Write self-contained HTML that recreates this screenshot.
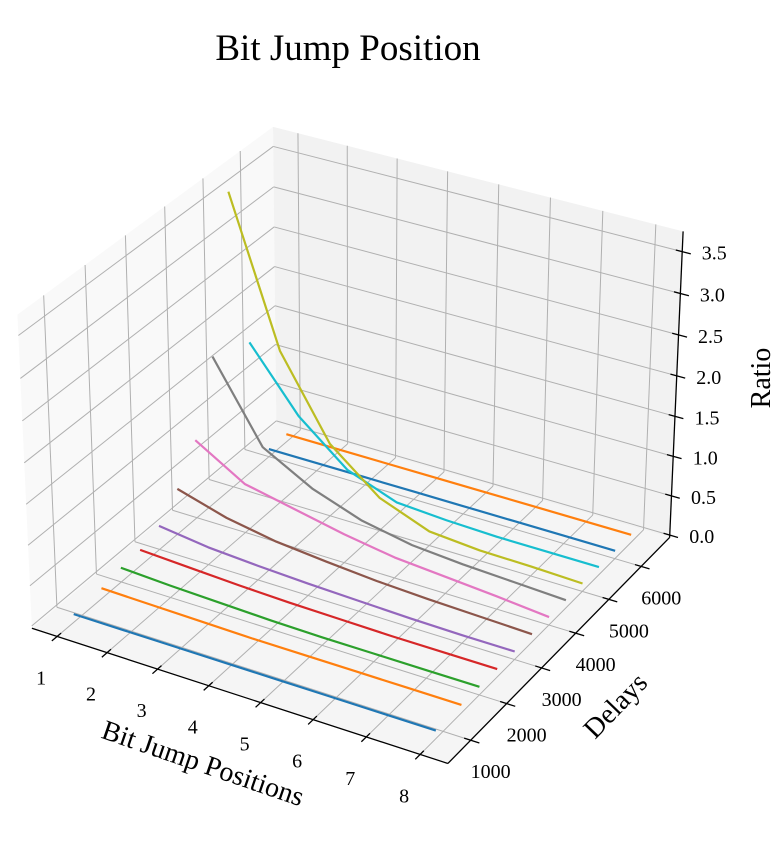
<!DOCTYPE html>
<html><head><meta charset="utf-8"><style>
html,body{margin:0;padding:0;background:#fff}
svg{display:block}
text{font-family:"Liberation Serif","Times New Roman",serif;fill:#000}
</style></head><body>
<svg id="chart" width="781" height="848" viewBox="0 0 781 848" xmlns="http://www.w3.org/2000/svg">
<text x="348" y="60" font-size="37" text-anchor="middle">Bit Jump Position</text>
<g id="panes"></g>
<g id="grid"></g>
<g id="axes"></g>
<g id="series"></g>
<g id="labels"></g>
<text x="200" y="772" font-size="28" text-anchor="middle" transform="rotate(19 200 772)">Bit Jump Positions</text>
<text x="622" y="712" font-size="28" text-anchor="middle" transform="rotate(-46 622 712)">Delays</text>
<text x="770" y="378" font-size="28" text-anchor="middle" transform="rotate(-90 770 378)">Ratio</text>
</svg>
<script>
const positions = [1, 2, 3, 4, 5, 6, 7, 8];
const delays = [800, 1500, 2000, 2500, 3000, 3500, 4000, 4500, 5000, 5500, 6000, 6500];
const ratio1000 = [0.07, 0.07, 0.07, 0.07, 0.07, 0.07, 0.07, 0.07];
const ratio1500 = [0.10, 0.09, 0.08, 0.07, 0.07, 0.07, 0.07, 0.07];
const ratio2000 = [0.15, 0.12, 0.10, 0.08, 0.07, 0.07, 0.07, 0.07];
const ratio2500 = [0.17, 0.14, 0.11, 0.09, 0.08, 0.07, 0.07, 0.07];
const ratio3000 = [0.27, 0.19, 0.15, 0.12, 0.10, 0.08, 0.07, 0.07];
const ratio3500 = [0.54, 0.36, 0.25, 0.19, 0.14, 0.11, 0.09, 0.07];
const ratio4000 = [0.96, 0.59, 0.46, 0.33, 0.23, 0.18, 0.13, 0.07];
const ratio4500 = [1.82, 0.86, 0.52, 0.30, 0.18, 0.13, 0.10, 0.07];
const ratio5000 = [3.66, 1.88, 0.89, 0.39, 0.15, 0.10, 0.09, 0.07];
const ratio5500 = [1.63, 0.87, 0.36, 0.13, 0.09, 0.07, 0.07, 0.07];
const ratio6000 = [0.07, 0.07, 0.07, 0.07, 0.07, 0.07, 0.07, 0.07];
const ratio6500 = [0.07, 0.07, 0.07, 0.07, 0.07, 0.07, 0.07, 0.07];
const seriesValues = [ratio1000, ratio1500, ratio2000, ratio2500, ratio3000, ratio3500, ratio4000, ratio4500, ratio5000, ratio5500, ratio6000, ratio6500];
const xTicks = [1, 2, 3, 4, 5, 6, 7, 8];
const yTicks = [1000, 2000, 3000, 4000, 5000, 6000];
const zTicks = [0, 0.5, 1, 1.5, 2, 2.5, 3, 3.5];
const zTickLabels = ["0.0", "0.5", "1.0", "1.5", "2.0", "2.5", "3.0", "3.5"];

const colors = ["#1f77b4","#ff7f0e","#2ca02c","#d62728","#9467bd","#8c564b","#e377c2","#7f7f7f","#bcbd22","#17becf","#1f77b4","#ff7f0e"];
const X0 = 0.49, X1 = 8.51, Y0 = 380, Y1 = 6901, Z0 = -0.03, Z1 = 3.74;
const NS = "http://www.w3.org/2000/svg";

const nrm = Math.sqrt(41), kf = 1.8294640721620434;
const asp = [4*kf/nrm, 4*kf/nrm, 3*kf/nrm];
const el = 30*Math.PI/180, az = -60*Math.PI/180;
const ps = [Math.cos(el)*Math.cos(az), Math.cos(el)*Math.sin(az), Math.sin(el)];
const eye = [asp[0]/2 + 10*ps[0], asp[1]/2 + 10*ps[1], asp[2]/2 + 10*ps[2]];
function cross(a,b){return [a[1]*b[2]-a[2]*b[1], a[2]*b[0]-a[0]*b[2], a[0]*b[1]-a[1]*b[0]];}
function unit(a){const l=Math.hypot(a[0],a[1],a[2]);return [a[0]/l,a[1]/l,a[2]/l];}
function dot(a,b){return a[0]*b[0]+a[1]*b[1]+a[2]*b[2];}
const W = unit(ps), U = unit(cross([0,0,1], W)), V = cross(W, U);
function raw(x,y,z){
  const p=[(x-X0)/(X1-X0)*asp[0]-eye[0], (y-Y0)/(Y1-Y0)*asp[1]-eye[1], (z-Z0)/(Z1-Z0)*asp[2]-eye[2]];
  const d=-dot(W,p);
  return [dot(U,p)/d, dot(V,p)/d];
}
const calib = [[X0,Y0,Z0,32,629],[X1,Y0,Z0,450,763],[X1,Y1,Z0,668,537],[X1,Y1,Z1,685,232],[X0,Y0,Z1,18,313],[X0,Y1,Z1,270,128]];
let pr = calib.map(c=>raw(c[0],c[1],c[2]));
let mX=0,mY=0,mx=0,my=0; const n=calib.length;
calib.forEach((c,i)=>{mX+=pr[i][0];mY+=pr[i][1];mx+=c[3];my+=c[4];});
mX/=n;mY/=n;mx/=n;my/=n;
let num=0,den=0;
calib.forEach((c,i)=>{const a=pr[i][0]-mX,b=pr[i][1]-mY;num+=a*(c[3]-mx)-b*(c[4]-my);den+=a*a+b*b;});
const S=num/den, CX=mx-S*mX, CY=my+S*mY;
function P(x,y,z){const r=raw(x,y,z);return [CX+S*r[0], CY-S*r[1]];}
function ptsStr(arr){return arr.map(p=>p[0].toFixed(2)+","+p[1].toFixed(2)).join(" ");}

function line(g,a,b,stroke,w,name){
  const l=document.createElementNS(NS,"line");
  
  
  l.setAttribute("x1",a[0]);l.setAttribute("y1",a[1]);l.setAttribute("x2",b[0]);l.setAttribute("y2",b[1]);
  l.setAttribute("stroke",stroke);l.setAttribute("stroke-width",w);
  g.appendChild(l);
}
function poly(g,arr,fill,name){
  const p=document.createElementNS(NS,"polygon");
  
  
  p.setAttribute("points",ptsStr(arr));p.setAttribute("fill",fill);
  g.appendChild(p);
}
function label(g,pt,txt,name){
  const t=document.createElementNS(NS,"text");
  
  
  t.setAttribute("x",pt[0]);t.setAttribute("y",pt[1]);
  t.setAttribute("font-size","20");t.setAttribute("text-anchor","middle");t.setAttribute("dominant-baseline","central");
  t.textContent=txt;g.appendChild(t);
}
const gP=document.getElementById("panes"), gG=document.getElementById("grid"), gA=document.getElementById("axes"), gS=document.getElementById("series"), gL=document.getElementById("labels");
poly(gP,[P(X0,Y0,Z0),P(X0,Y1,Z0),P(X0,Y1,Z1),P(X0,Y0,Z1)],"#f9f9f9","left-pane");
poly(gP,[P(X0,Y1,Z0),P(X1,Y1,Z0),P(X1,Y1,Z1),P(X0,Y1,Z1)],"#f2f2f2","back-pane");
poly(gP,[P(X0,Y0,Z0),P(X1,Y0,Z0),P(X1,Y1,Z0),P(X0,Y1,Z0)],"#f5f5f5","floor-pane");
const gc="#b0b0b0";
xTicks.forEach(x=>{
  line(gG,P(x,Y0,Z0),P(x,Y1,Z0),gc,1,"x-gridline-floor");
  line(gG,P(x,Y1,Z0),P(x,Y1,Z1),gc,1,"x-gridline-back");
});
yTicks.forEach(y=>{
  line(gG,P(X0,y,Z0),P(X1,y,Z0),gc,1,"y-gridline-floor");
  line(gG,P(X0,y,Z0),P(X0,y,Z1),gc,1,"y-gridline-left");
});
zTicks.forEach(z=>{
  line(gG,P(X0,Y0,z),P(X0,Y1,z),gc,1,"z-gridline-left");
  line(gG,P(X0,Y1,z),P(X1,Y1,z),gc,1,"z-gridline-back");
});
line(gA,P(X0,Y0,Z0),P(X1,Y0,Z0),"#000",1.3,"x-axis-line");
line(gA,P(X1,Y0,Z0),P(X1,Y1,Z0),"#000",1.3,"y-axis-line");
line(gA,P(X1,Y1,Z0),P(X1,Y1,Z1),"#000",1.3,"z-axis-line");
const dy=Y1-Y0, dx=X1-X0;
xTicks.forEach(x=>{
  line(gA,P(x,Y0-0.02*dy,Z0),P(x,Y0+0.015*dy,Z0),"#000",1.3,"x-tick");
  const q=P(x,Y0,Z0); label(gL,[q[0]-16,q[1]+42],String(x),"x-tick-label");
});
yTicks.forEach(y=>{
  line(gA,P(X1-0.015*dx,y,Z0),P(X1+0.02*dx,y,Z0),"#000",1.3,"y-tick");
  const q=P(X1,y,Z0); label(gL,[q[0]+20,q[1]+32],String(y),"y-tick-label");
});
zTicks.forEach((z,i)=>{
  line(gA,P(X1-0.015*dx,Y1,z),P(X1+0.02*dx,Y1,z),"#000",1.3,"z-tick");
  const q=P(X1,Y1,z); label(gL,[q[0]+32,q[1]+2],zTickLabels[i],"z-tick-label");
});
for(let i=delays.length-1;i>=0;i--){
  const pts=positions.map((x,j)=>P(x,delays[i],seriesValues[i][j]));
  const pl=document.createElementNS(NS,"polyline");
  
  
  pl.setAttribute("points",ptsStr(pts));
  pl.setAttribute("fill","none");pl.setAttribute("stroke",colors[i]);pl.setAttribute("stroke-width","2.2");
  pl.setAttribute("stroke-linejoin","round");
  gS.appendChild(pl);
}
</script>
</body></html>
